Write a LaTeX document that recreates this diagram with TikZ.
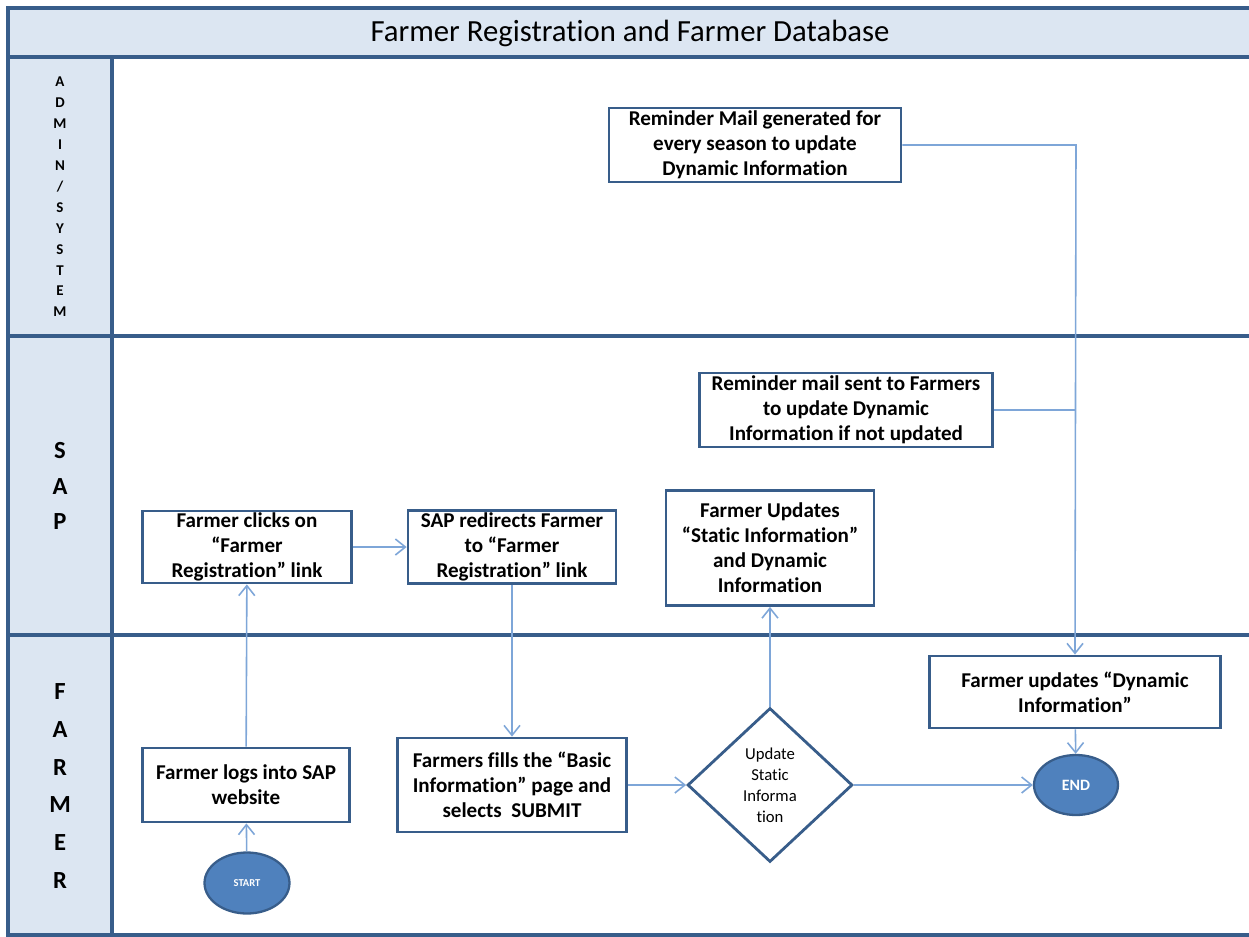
\documentclass[tikz,border=0pt]{standalone}
\usepackage{fontspec}
\setmainfont{Carlito}[Ligatures=NoCommon]
\usetikzlibrary{shapes.geometric,arrows.meta}
\definecolor{laneblue}{HTML}{385D8A}
\definecolor{lanefill}{HTML}{DCE6F2}
\definecolor{flowline}{HTML}{7EA6D8}
\definecolor{termfill}{HTML}{4F81BD}

\begin{document}
\begin{tikzpicture}[x=0.02cm,y=-0.02cm,
        stepbox/.style={draw=laneblue,line width=1.6pt,fill=white,align=center,inner sep=0pt,
            font=\fontsize{12}{14.2}\selectfont\bfseries},
        decision/.style={diamond,draw=laneblue,line width=1.6pt,fill=white,align=center,inner sep=0pt,
            minimum width=3.3cm,minimum height=3.08cm,font=\fontsize{9.5}{12}\selectfont},
        terminal/.style={ellipse,draw=laneblue,line width=1.3pt,fill=termfill,text=white,inner sep=0pt},
        lanelabel/.style={align=center},
        flow/.style={flowline,line width=0.9pt,-{Straight Barb[length=2mm,width=3.2mm]}},
        joinline/.style={flowline,line width=0.9pt}]

        \useasboundingbox (0,0) rectangle (1249,937);

        % lanes
        \fill[lanefill] (8,8) rectangle (1249,57);
        \fill[lanefill] (8,57) rectangle (112,935);
        \draw[laneblue,line width=1.8pt] (1249,8) -- (8,8) -- (8,935) -- (1249,935);
        \draw[laneblue,line width=1.8pt] (8,57) -- (1249,57);
        \draw[laneblue,line width=1.8pt] (8,336) -- (1249,336);
        \draw[laneblue,line width=1.8pt] (8,635) -- (1249,635);
        \draw[laneblue,line width=1.8pt] (112,57) -- (112,935);

        \node[font=\fontsize{17.5}{19}\selectfont] (title) at (630,33) {Farmer Registration and Farmer Database};
        \node[lanelabel,font=\fontsize{8.5}{11.9}\selectfont\bfseries] (admin) at (60,197)
            {A\\D\\M\\I\\N\\/\\S\\Y\\S\\T\\E\\M};
        \node[lanelabel,font=\fontsize{14}{20.4}\selectfont\bfseries] (sap) at (60,486) {S\\A\\P};
        \node[lanelabel,font=\fontsize{14}{21.6}\selectfont\bfseries] (farmer) at (60,786) {F\\A\\R\\M\\E\\R};

        % steps
        \node[stepbox,minimum width=5.84cm,minimum height=1.48cm] (mailgen) at (755,145)
            {Reminder Mail generated for\\every season to update\\Dynamic Information};
        \node[stepbox,minimum width=5.86cm,minimum height=1.48cm] (mailsent) at (846,410)
            {Reminder mail sent to Farmers\\to update Dynamic\\Information if not updated};
        \node[stepbox,minimum width=4.18cm,minimum height=1.44cm] (clicks) at (247,547)
            {Farmer clicks on\\“Farmer\\Registration” link};
        \node[stepbox,minimum width=4.16cm,minimum height=1.46cm] (redirect) at (512,547)
            {SAP redirects Farmer\\to “Farmer\\Registration” link};
        \node[stepbox,minimum width=4.16cm,minimum height=2.3cm] (updstatic) at (770,548)
            {Farmer Updates\\“Static Information”\\and Dynamic\\Information};
        \node[stepbox,minimum width=5.82cm,minimum height=1.44cm] (upddynamic) at (1075,692)
            {Farmer updates “Dynamic\\Information”};
        \node[stepbox,minimum width=4.14cm,minimum height=1.48cm] (login) at (246,785)
            {Farmer logs into SAP\\website};
        \node[stepbox,minimum width=4.58cm,minimum height=1.88cm] (basic) at (512,785)
            {Farmers fills the “Basic\\Information” page and\\selects\ \ SUBMIT};
        \node[decision] (check) at (770,785) {Update\\Static\\Informa\\tion};
        \node[terminal,minimum width=1.68cm,minimum height=1.2cm,font=\fontsize{9}{10}\selectfont\bfseries] (end) at (1076,785) {END};
        \node[terminal,minimum width=1.7cm,minimum height=1.22cm,font=\fontsize{6}{7}\selectfont\bfseries] (start) at (247,883) {START};

        \coordinate (bend) at (1076,145);
        \coordinate (merge) at (1076,410);

        % connectors
        \draw[flow] (start) -- (login);
        \draw[flow] (login) -- (clicks);
        \draw[flow] (clicks) -- (redirect);
        \draw[flow] (redirect) -- (basic);
        \draw[flow] (basic) -- (check);
        \draw[flow] (check) -- (updstatic);
        \draw[flow] (check) -- (end);
        \draw[flow] (mailgen.east) -- (bend) -- (upddynamic.north);
        \draw[joinline] (mailsent.east) -- (merge);
        \draw[flow] (upddynamic) -- (end);

\end{tikzpicture}
\end{document}
